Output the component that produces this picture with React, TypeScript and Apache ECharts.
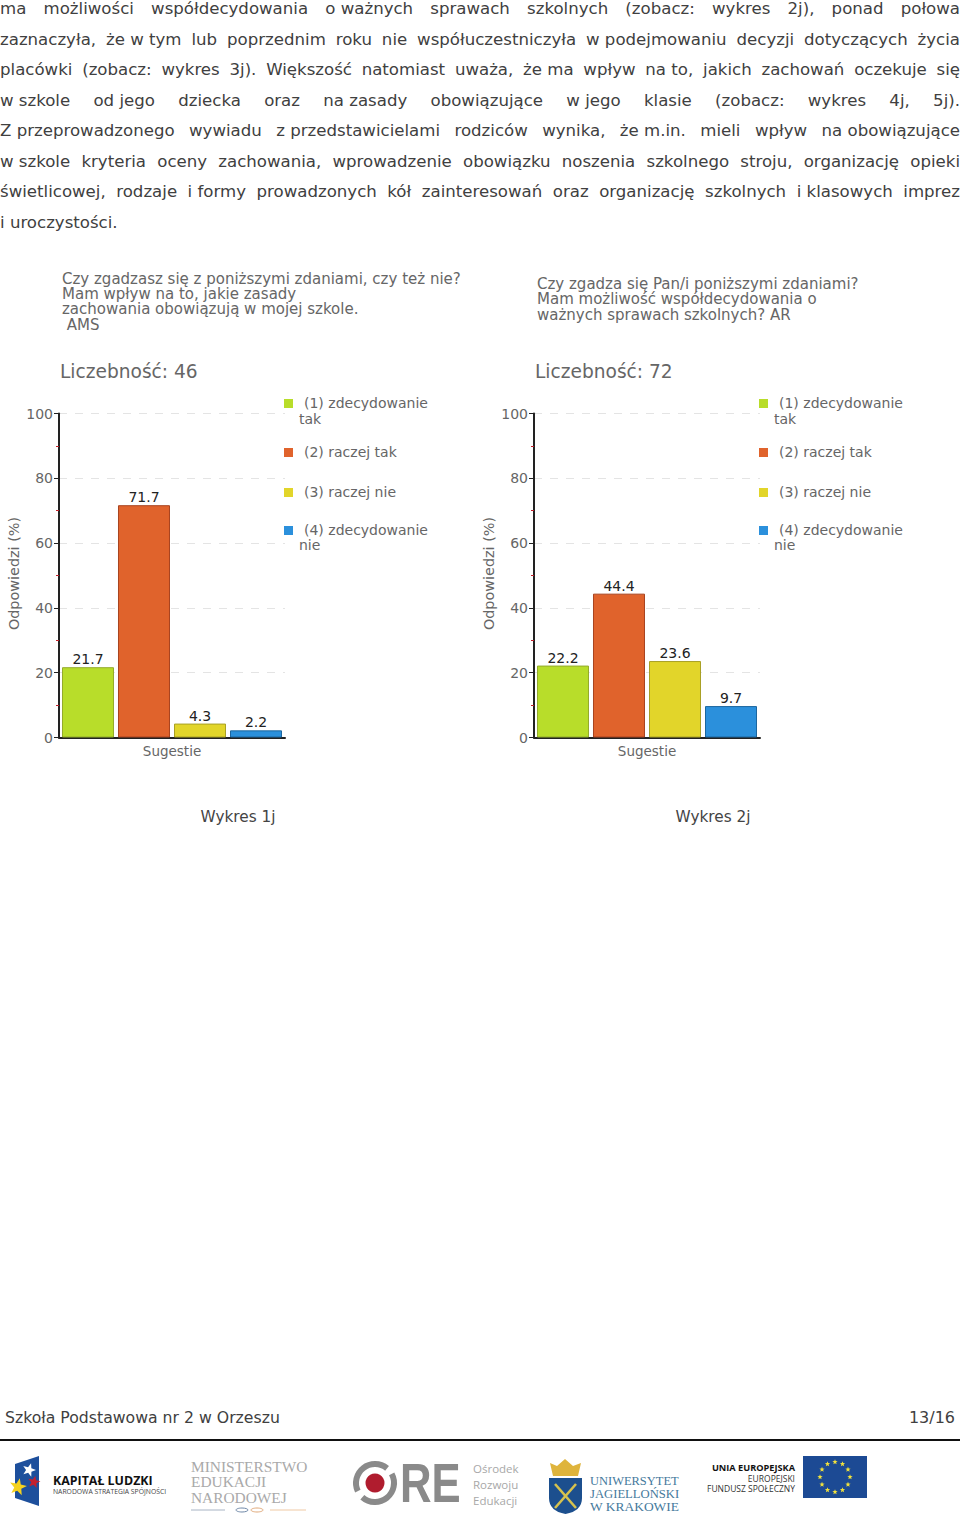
import React, { useEffect, useRef } from "react";
import * as echarts from "echarts";

const categories = ["Sugestie"];
const seriesNames = ["(1) zdecydowanie tak", "(2) raczej tak", "(3) raczej nie", "(4) zdecydowanie nie"];
const valuesChart1 = [21.7, 71.7, 4.3, 2.2];
const valuesChart2 = [22.2, 44.4, 23.6, 9.7];
const fills = ["#b8dd2a", "#e0632c", "#e2d52a", "#2b90dc"];
const borders = ["#93ab2a", "#a8431f", "#a9a025", "#1c669f"];
// "|" marks the stretched gaps of the justified lines
const paragraph = [
  "ma|możliwości|współdecydowania|o ważnych|sprawach|szkolnych|(zobacz:|wykres|2j),|ponad|połowa",
  "zaznaczyła,|że w tym|lub|poprzednim|roku|nie|współuczestniczyła|w podejmowaniu|decyzji|dotyczących|życia",
  "placówki|(zobacz:|wykres|3j).|Większość|natomiast|uważa,|że ma|wpływ|na to,|jakich|zachowań|oczekuje|się",
  "w szkole|od jego|dziecka|oraz|na zasady|obowiązujące|w jego|klasie|(zobacz:|wykres|4j,|5j).",
  "Z przeprowadzonego|wywiadu|z przedstawicielami|rodziców|wynika,|że m.in.|mieli|wpływ|na obowiązujące",
  "w szkole|kryteria|oceny|zachowania,|wprowadzenie|obowiązku|noszenia|szkolnego|stroju,|organizację|opieki",
  "świetlicowej,|rodzaje|i formy|prowadzonych|kół|zainteresowań|oraz|organizację|szkolnych|i klasowych|imprez",
];
const lastLine = "i uroczystości.";
const title1 = ["Czy zgadzasz się z poniższymi zdaniami, czy też nie?", "Mam wpływ na to, jakie zasady", "zachowania obowiązują w mojej szkole.", " AMS"];
const title2 = ["Czy zgadza się Pan/i poniższymi zdaniami?", "Mam możliwość współdecydowania o", "ważnych sprawach szkolnych? AR"];
const countLabels = ["Liczebność: 46", "Liczebność: 72"];
const captions = ["Wykres 1j", "Wykres 2j"];

const SANS = "'DejaVu Sans', Verdana, sans-serif";
const txt = (text: string, x: number, y: number, size: number, fill: string, extra: any = {}) => ({
  type: "text", x, y, silent: true, scaleX: extra.scaleX ?? 1,
  style: { text, fontSize: size, fontFamily: extra.family || SANS, fontWeight: extra.weight || "normal", fill, textAlign: extra.align || "left", textVerticalAlign: "middle" },
});
const star = (cx: number, cy: number, r: number, fill: string, rot = 0) => {
  const points: number[][] = [];
  for (let i = 0; i < 10; i++) {
    const a = -Math.PI / 2 + rot + (i * Math.PI) / 5;
    const rr = i % 2 ? r * 0.42 : r;
    points.push([cx + rr * Math.cos(a), cy + rr * Math.sin(a)]);
  }
  return { type: "polygon", shape: { points }, style: { fill } };
};

function justified(): any[] {
  const ctx = document.createElement("canvas").getContext("2d")!;
  const size = 16.6;
  const color = "#404040";
  ctx.font = `${size}px 'DejaVu Sans'`;
  const out: any[] = [];
  paragraph.forEach((line, i) => {
    const words = line.split("|");
    const widths = words.map((w) => ctx.measureText(w).width);
    const total = widths.reduce((a, b) => a + b, 0);
    const gap = (960 - total) / (words.length - 1);
    let x = 0;
    const y = 8.5 + i * 30.5;
    words.forEach((w, k) => {
      out.push(txt(w, x, y, size, color));
      x += widths[k] + gap;
    });
  });
  out.push(txt(lastLine, 0, 222, size, color));
  return out;
}

function chartBlock(dx: number): any[] {
  const grey = "#666666";
  const legendY = [403, 452, 492, 530];
  const els: any[] = [];
  const legendText: [string, number, number][][] = [
    [["(1) zdecydowanie", 304, 403], ["tak", 299, 419]],
    [["(2) raczej tak", 304, 452]],
    [["(3) raczej nie", 304, 492]],
    [["(4) zdecydowanie", 304, 530], ["nie", 299, 545]],
  ];
  legendY.forEach((y, i) => {
    els.push({ type: "rect", shape: { x: 284 + dx, y: y - 4, width: 9, height: 9 }, style: { fill: fills[i] } });
    legendText[i].forEach(([t, x, ty]) => els.push(txt(t, x + dx, ty, 14, grey)));
  });
  return els;
}

function logos(): any[] {
  const e: any[] = [];
  const OPEN = "'Open Sans', sans-serif";
  const SERIF = "'Liberation Serif', serif";
  // Kapitał Ludzki
  e.push({ type: "polygon", shape: { points: [[15, 1464], [39, 1456], [39, 1506], [15, 1498]] }, style: { fill: "#1d4f9c" } });
  e.push(star(29, 1470, 7, "#ffffff", 0.3));
  e.push(star(34, 1482, 6.5, "#c3202f", 0.2));
  e.push(star(18, 1487, 9, "#f4d21f", 0.2));
  e.push(txt("KAPITAŁ LUDZKI", 53, 1480, 12.4, "#111111", { weight: "bold", family: OPEN }));
  e.push(txt("NARODOWA STRATEGIA SPÓJNOŚCI", 53, 1491.5, 6.8, "#444444", { family: OPEN }));
  // MEN
  ["MINISTERSTWO", "EDUKACJI", "NARODOWEJ"].forEach((t, i) =>
    e.push(txt(t, 191, 1466 + i * 15.5, 15.4, "#a9a9a9", { family: SERIF }))
  );
  e.push({ type: "line", shape: { x1: 191, y1: 1510, x2: 225, y2: 1510 }, style: { stroke: "#a8b4c4", lineWidth: 1 } });
  e.push({ type: "line", shape: { x1: 270, y1: 1510, x2: 306, y2: 1510 }, style: { stroke: "#efc9a4", lineWidth: 1 } });
  e.push({ type: "ellipse", shape: { cx: 242, cy: 1510, rx: 6, ry: 2 }, style: { fill: "none", stroke: "#6f88a8", lineWidth: 1 } });
  e.push({ type: "ellipse", shape: { cx: 257, cy: 1510, rx: 6, ry: 2 }, style: { fill: "none", stroke: "#e0a878", lineWidth: 1 } });
  // ORE
  e.push({ type: "arc", shape: { cx: 375, cy: 1483, r: 19, startAngle: -0.5, endAngle: 2.3 }, style: { fill: "none", stroke: "#8a8a8a", lineWidth: 6 } });
  e.push({ type: "arc", shape: { cx: 375, cy: 1483, r: 19, startAngle: 2.7, endAngle: 5.4 }, style: { fill: "none", stroke: "#8a8a8a", lineWidth: 6 } });
  e.push({ type: "circle", shape: { cx: 375, cy: 1483, r: 9.5 }, style: { fill: "#b01c2e" } });
  e.push(txt("RE", 400, 1483, 56, "#8a8a8a", { weight: "bold", family: "'Liberation Sans', sans-serif", scaleX: 0.78 }));
  ["Ośrodek", "Rozwoju", "Edukacji"].forEach((t, i) =>
    e.push(txt(t, 473, 1468 + i * 16, 11.5, "#a8a8a8", { family: OPEN }))
  );
  // UJ
  e.push({ type: "polygon", shape: { points: [[550, 1463], [557, 1466], [565, 1459], [573, 1466], [581, 1463], [578, 1476], [553, 1476]] }, style: { fill: "#dfb43c" } });
  e.push({ type: "jagShield", x: 549, y: 1478, style: { fill: "#1c4f8e" } });
  e.push({ type: "line", shape: { x1: 555, y1: 1484, x2: 576, y2: 1508 }, style: { stroke: "#d6c24e", lineWidth: 2.5 } });
  e.push({ type: "line", shape: { x1: 576, y1: 1484, x2: 555, y2: 1508 }, style: { stroke: "#d6c24e", lineWidth: 2.5 } });
  ([["UNIWERSYTET", 1481, 1.085], ["JAGIELLOŃSKI", 1494, 1.1], ["W KRAKOWIE", 1507, 1.17]] as [string, number, number][]).forEach(([t, y, s]) =>
    e.push(txt(t, 590, y, 11.5, "#44799c", { family: SERIF, scaleX: s }))
  );
  // EU
  e.push(txt("UNIA EUROPEJSKA", 795, 1467, 9.2, "#111111", { weight: "bold", align: "right", family: OPEN }));
  e.push(txt("EUROPEJSKI", 795, 1478, 8.5, "#333333", { align: "right", family: OPEN }));
  e.push(txt("FUNDUSZ SPOŁECZNY", 795, 1488, 8.5, "#333333", { align: "right", family: OPEN }));
  e.push({ type: "rect", shape: { x: 803, y: 1456, width: 64, height: 42 }, style: { fill: "#1c4a94" } });
  for (let i = 0; i < 12; i++) {
    const a = (i * Math.PI) / 6;
    e.push(star(835 + 15 * Math.cos(a), 1477 + 15 * Math.sin(a), 2.8, "#f2e23c"));
  }
  return e;
}

function makeGrid(idx: number, left: number, values: number[]) {
  return {
    series: values.map((v, i) => ({
      name: seriesNames[i],
      type: "bar",
      xAxisIndex: idx,
      yAxisIndex: idx,
      data: [v],
      barWidth: 52,
      barGap: "7.7%",
      itemStyle: { color: fills[i], borderColor: borders[i], borderWidth: 1 },
      label: { show: true, position: "top", distance: 1, color: "#222222", fontSize: 14, fontFamily: SANS, formatter: "{c}" },
    })),
    grid: { left, top: 413.5, width: 226, height: 324 },
  };
}

export default function App() {
  const ref = useRef<HTMLDivElement>(null);
  useEffect(() => {
    echarts.graphic.registerShape(
      "jagShield",
      echarts.graphic.extendPath("M0 0 H33 V20 Q33 33 16.5 36 Q0 33 0 20 Z", {}) as any
    );
    const chart = echarts.init(ref.current!, null, { renderer: "svg" });
    const g1 = makeGrid(0, 59, valuesChart1);
    const g2 = makeGrid(1, 534, valuesChart2);
    const xAxis = (gridIndex: number) => ({
      type: "category", gridIndex, data: categories,
      axisLine: { lineStyle: { color: "#222222", width: 2 } },
      axisTick: { alignWithLabel: true, length: 4, lineStyle: { color: "#222222" } },
      axisLabel: { color: "#666666", fontSize: 13.5, fontFamily: SANS, margin: 6 },
    });
    const yAxis = (gridIndex: number) => ({
      type: "value", gridIndex, min: 0, max: 100, interval: 20,
      name: "Odpowiedzi (%)", nameLocation: "middle", nameGap: 38, nameRotate: 90,
      nameTextStyle: { color: "#666666", fontSize: 14.4, fontFamily: SANS, padding: [0, 0, 0, 4] },
      axisLine: { show: true, lineStyle: { color: "#222222", width: 2 } },
      axisTick: { show: true, length: 5, lineStyle: { color: "#222222" } },
      minorTick: { show: true, splitNumber: 2, length: 3, lineStyle: { color: "#c0202a" } },
      axisLabel: { color: "#666666", fontSize: 14, fontFamily: SANS, margin: 6 },
      splitLine: { lineStyle: { color: "#e4e4e4", type: [8, 8], width: 1 } },
    });
    const title = (lines: string[], x: number, y0: number, step: number) =>
      lines.map((t, i) => txt(t, x, y0 + i * step, 15, "#666666"));
    chart.setOption({
      animation: false,
      backgroundColor: "#ffffff",
      grid: [g1.grid, g2.grid],
      xAxis: [xAxis(0), xAxis(1)],
      yAxis: [yAxis(0), yAxis(1)],
      series: [...g1.series, ...g2.series],
      graphic: {
        elements: [
          ...justified(),
          ...title(title1, 62, 278.5, 15.4),
          ...title(title2, 537, 284, 15.4),
          txt(countLabels[0], 60, 371, 18.6, "#666666"),
          txt(countLabels[1], 535, 371, 18.6, "#666666"),
          ...chartBlock(0),
          ...chartBlock(475),
          txt(captions[0], 238, 817, 15.3, "#444444", { align: "center" }),
          txt(captions[1], 713, 817, 15.3, "#444444", { align: "center" }),
          txt("Szkoła Podstawowa nr 2 w Orzeszu", 5, 1417, 15.7, "#404040"),
          txt("13/16", 955, 1417, 16, "#404040", { align: "right" }),
          { type: "rect", shape: { x: 0, y: 1439, width: 960, height: 2 }, style: { fill: "#111111" } },
          ...logos(),
        ],
      },
    });
    return () => chart.dispose();
  }, []);
  return <div ref={ref} style={{ position: "absolute", left: 0, top: 0, width: 960, height: 1528 }} />;
}
